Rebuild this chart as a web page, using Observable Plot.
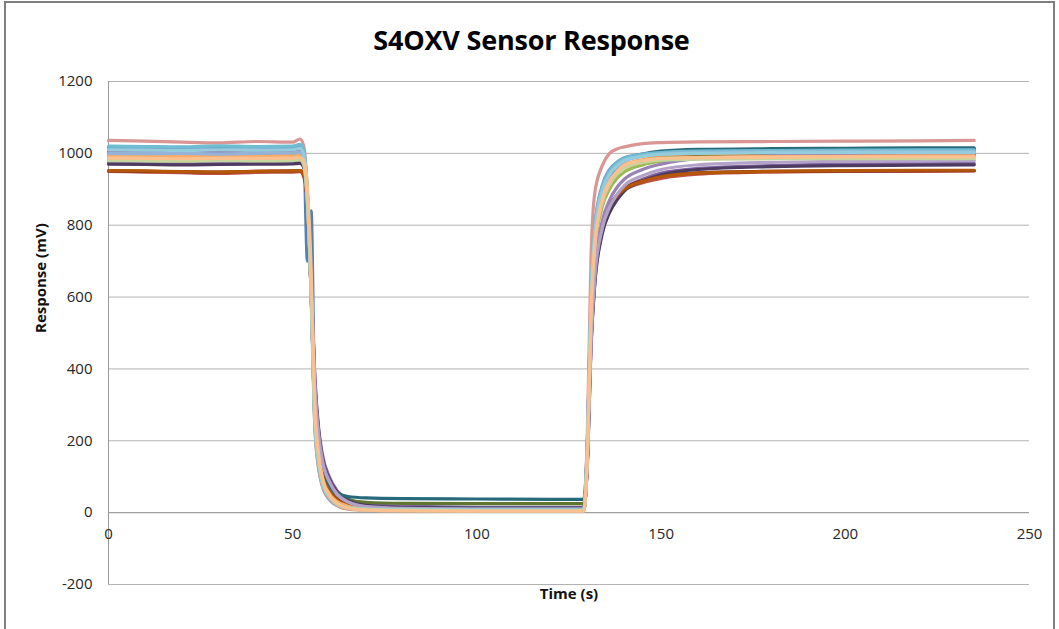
<!DOCTYPE html>
<html><head><meta charset="utf-8">
<script src="https://cdn.jsdelivr.net/npm/d3@7"></script>
<script src="https://cdn.jsdelivr.net/npm/@observablehq/plot@0.6"></script>
<style>
html,body{margin:0;padding:0;background:#fff;}
#wrap{position:relative;width:1059px;height:629px;overflow:hidden;font-family:"Open Sans",sans-serif;}
#frame{position:absolute;left:4px;top:1px;width:1051px;height:660px;border:2px solid #7f7f7f;box-sizing:border-box;}
#title{position:absolute;left:2px;width:1059px;top:26px;text-align:center;font-weight:700;font-size:27px;color:#000;line-height:1;letter-spacing:-0.2px;}
#chart{position:absolute;left:0;top:0;}
</style></head><body>
<div id="wrap"><div id="frame"></div><div id="title">S4OXV Sensor Response</div><div id="chart"></div></div>
<script>
// Shared time points (s)
const times = [0,10,20,30,40,50,52,53,54,55,56,57,58,60,62,65,70,80,100,120,129,130,131,132,134,136,138,140,145,150,160,180,200,220,235];
const yTicks = [-200,0,200,400,600,800,1000,1200];
const xTicks = [0,50,100,150,200,250];
const title = "S4OXV Sensor Response";
const xLabel = "Time (s)";
const yLabel = "Response (mV)";

// Series colours (drawing order)
const seriesColors = ["#4F81BD","#C0504D","#9BBB59","#8064A2","#4BACC6","#F79646","#2C4D75","#772C2A","#5F7530","#4D3B62","#276A7C","#B65708","#729ACA","#D99694","#AFC97A","#9983B5","#6FBDD1","#F9AB6B","#95B3D7","#B3A2C7","#93CDDD","#C3D69B","#FAC090"];

// Series values (mV), one per colour, aligned with times
const s01 = [1008,1010,1007,1009,1006,1010,1012, 995,700,840,290,160,100,50,30,18,12,9,8,8,8, 170,580,760,880,930,960,980,995,1003,1008,1010,1011,1012,1012];
const s02 = [950,948,946,944,947,948,949, 935,860,610,290,170,110,60,38,22,14,10,8,8,8, 150,520,690,800,850,880,898,918,930,942,948,950,950,951];
const s03 = [986,985,984,986,985,986,988, 975,870,630,300,175,115,64,42,27,19,14,12,12,12, 160,550,730,850,900,930,948,968,978,985,988,989,990,990];
const s04 = [976,975,973,974,975,976,977, 965,870,650,380,240,165,98,62,38,24,18,15,15,15, 140,470,640,780,840,875,900,928,945,958,966,970,971,972];
const s05 = [1016,1015,1017,1014,1016,1015,1020, 1000,880,620,260,140,85,42,24,14,10,9,8,8,8, 190,600,780,900,945,970,985,996,1000,1004,1006,1007,1008,1008];
const s06 = [996,995,993,990,994,995,997, 985,870,625,290,165,105,55,34,20,14,11,10,10,10, 170,560,745,870,920,950,968,982,990,994,996,997,998,998];
const s07 = [1002,1003,1001,1000,1002,1003,1005, 990,875,625,285,160,100,52,32,20,15,13,12,12,12, 180,590,770,885,935,962,980,996,1004,1008,1010,1011,1012,1012];
const s08 = [951,950,949,948,950,951,952, 940,862,612,292,170,110,60,38,23,15,11,10,10,10, 150,515,688,802,855,884,902,924,937,946,950,951,952,952];
const s09 = [992,991,990,992,991,992,994, 980,870,630,300,175,118,70,50,36,29,26,25,25,25, 170,555,740,865,915,945,962,978,986,990,993,994,995,995];
const s10 = [970,969,968,969,970,971,972, 960,865,645,370,230,155,92,57,34,20,14,12,12,12, 140,465,635,775,835,870,895,922,940,955,963,966,967,968];
const s11 = [1013,1012,1010,1011,1012,1013,1015, 1000,880,630,290,170,115,72,55,45,41,39,38,37,37, 200,590,770,890,940,966,982,998,1006,1011,1013,1014,1015,1015];
const s12 = [952,951,949,948,950,951,952, 940,860,610,290,168,108,58,36,21,13,9,8,8,8, 150,515,685,800,852,882,900,922,935,945,950,952,953,953];
const s13 = [1014,1015,1013,1012,1014,1015,1018, 1000,880,600,240,125,75,36,20,11,8,7,6,6,6, 200,620,800,910,955,975,988,998,1002,1005,1007,1008,1008,1008];
const s14 = [1036,1034,1031,1029,1033,1031,1040, 1020,890,620,250,130,78,38,20,10,7,6,5,5,5, 230,720,890,965,1000,1012,1018,1027,1030,1032,1033,1034,1035,1036];
const s15 = [988,987,986,988,987,988,990, 975,860,610,260,140,85,42,22,12,8,6,5,5,5, 175,570,750,870,920,948,965,980,986,988,989,990,990,990];
const s16 = [1006,1005,1004,1003,1005,1006,1008, 995,875,650,360,225,150,88,52,30,16,10,8,8,8, 150,490,670,810,870,905,928,955,970,985,993,997,999,1000];
const s17 = [1020,1019,1018,1021,1019,1020,1025, 1008,885,620,265,145,88,44,25,15,11,10,10,10,10, 190,610,790,905,950,972,986,997,1002,1006,1008,1009,1010,1010];
const s18 = [993,992,991,993,992,993,995, 982,868,620,285,160,100,52,31,18,11,9,8,8,8, 165,550,735,860,912,942,960,975,983,988,991,992,993,993];
const s19 = [1000,999,1000,998,1000,1001,1003, 988,872,615,270,148,90,45,25,14,9,7,6,6,6, 180,590,770,890,938,962,978,992,998,1002,1004,1005,1005,1005];
const s20 = [982,981,980,981,982,983,985, 970,865,640,350,215,145,85,52,30,17,12,10,10,10, 145,480,655,790,850,885,910,938,955,968,975,978,979,980];
const s21 = [1010,1009,1008,1010,1009,1010,1014, 996,878,618,262,140,85,42,24,14,10,9,8,8,8, 185,600,780,895,942,965,980,992,997,1000,1002,1003,1003,1003];
const s22 = [980,979,978,980,979,980,982, 968,860,615,275,152,92,46,26,14,9,7,6,6,6, 170,565,745,865,915,943,960,975,981,984,985,985,985,985];
const s23 = [987,986,985,986,986,987,988, 980,900,680,300,165,100,48,26,13,7,5,4,4,4, 160,560,745,870,922,950,967,980,986,988,989,990,990,990];

const seriesValues = [s01,s02,s03,s04,s05,s06,s07,s08,s09,s10,s11,s12,s13,s14,s15,s16,s17,s18,s19,s20,s21,s22,s23];

document.getElementById("title").textContent = title;

const lineMarks = seriesValues.map((vals, k) =>
  Plot.line(times, {
    x: d => d,
    y: (d, i) => vals[i],
    stroke: seriesColors[k],
    strokeWidth: 3.2,
    strokeLinejoin: "round",
    strokeLinecap: "round",
    curve: "monotone-x"
  })
);

const chart = Plot.plot({
  width: 1059,
  height: 629,
  marginTop: 81,
  marginBottom: 45,
  marginLeft: 108,
  marginRight: 30,
  x: {domain: [0, 250], axis: null},
  y: {domain: [-200, 1200]},
  style: {fontFamily: "'Open Sans', sans-serif", fontSize: "15px", color: "#262626", background: "transparent", overflow: "visible"},
  marks: [
    Plot.ruleY(yTicks, {stroke: "#b3b3b3", strokeWidth: 1}),
    Plot.ruleX([0], {stroke: "#9a9a9a", strokeWidth: 1}),
    Plot.ruleY([0], {stroke: "#9a9a9a", strokeWidth: 1}),
    Plot.axisY(yTicks, {tickSize: 0, tickPadding: 16, label: null, tickFormat: d => String(d), fontSize: 15}),
    Plot.text(xTicks, {x: d => d, y: 0, dy: 22, text: d => String(d), fontSize: 15}),
    Plot.text([yLabel], {frameAnchor: "left", dx: -67, rotate: -90, fontWeight: "bold", fontSize: 15, fill: "#111"}),
    Plot.text([xLabel], {frameAnchor: "bottom", dy: 14, fontWeight: "bold", fontSize: 15, fill: "#111"}),
    ...lineMarks
  ]
});
document.getElementById("chart").appendChild(chart);
</script>
</body></html>
